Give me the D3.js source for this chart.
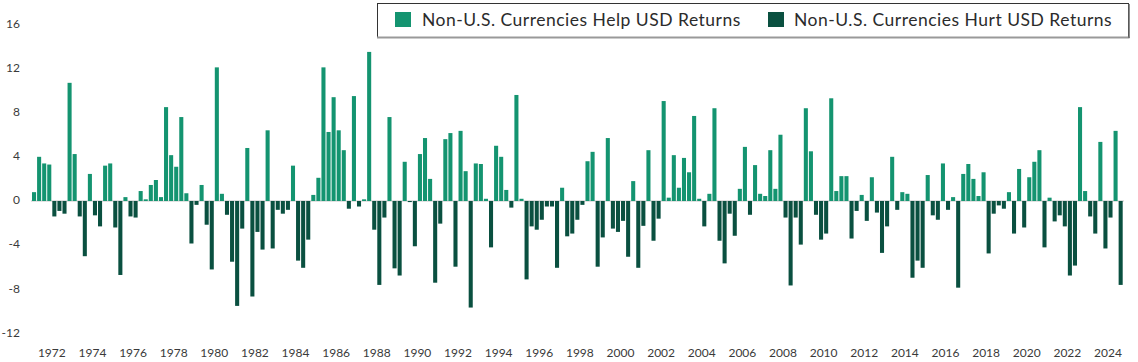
<!DOCTYPE html>
<html>
<head>
<meta charset="utf-8">
<script src="https://cdn.jsdelivr.net/npm/d3@7"></script>
<style>
  html, body { margin: 0; padding: 0; background: #ffffff; }
  svg { display: block; }
  text { font-family: "Lato", "Roboto", sans-serif; }
</style>
</head>
<body>
<svg id="chart" width="1138" height="362"></svg>
<script>
// ---- data ----
const startYear = 1971;           // first quarter shown: 1971 Q1
const seriesNames = ["Non-U.S. Currencies Help USD Returns", "Non-U.S. Currencies Hurt USD Returns"];
const values = [
  0.8, 4.0, 3.4, 3.3, -1.4, -0.9, -1.15, 10.7, 4.25, -1.4,
  -5.0, 2.45, -1.3, -2.3, 3.2, 3.4, -2.4, -6.7, 0.35, -1.4,
  -1.5, 0.9, 0.15, 1.45, 1.9, 0.35, 8.5, 4.15, 3.1, 7.6,
  0.7, -3.85, -0.35, 1.45, -2.15, -6.2, 12.1, 0.65, -1.25, -5.5,
  -9.5, -2.5, 4.8, -8.65, -2.8, -4.4, 6.4, -4.3, -0.8, -1.15,
  -0.8, 3.2, -5.4, -6.05, -3.5, 0.55, 2.1, 12.1, 6.25, 9.4,
  6.4, 4.6, -0.7, 9.5, -0.5, 0.15, 13.5, -2.6, -7.6, -1.5,
  7.6, -6.1, -6.75, 3.55, -0.1, -4.1, 4.25, 5.7, 2.0, -7.4,
  -2.05, 5.6, 6.15, -5.95, 6.35, 2.7, -9.65, 3.4, 3.35, 0.2,
  -4.2, 5.0, 4.0, 1.0, -0.6, 9.6, 0.2, -7.1, -2.3, -2.6,
  -1.7, -0.5, -0.5, -6.05, 1.2, -3.2, -2.95, -1.7, -0.35, 3.6,
  4.45, -5.95, -3.3, 5.7, -2.5, -2.8, -1.8, -5.05, 1.8, -6.05,
  -2.25, 4.6, -3.6, -1.6, 9.05, 0.3, 4.15, 1.2, 3.9, 2.6,
  7.7, 0.2, -2.3, 0.65, 8.4, -3.6, -5.65, -1.15, -3.15, 1.1,
  4.9, -1.25, 3.25, 0.65, 0.45, 4.6, 1.1, 6.0, -1.5, -7.65,
  -1.5, -3.95, 8.4, 4.5, -1.25, -3.5, -2.95, 9.3, 0.9, 2.25,
  2.25, -3.4, -0.9, 0.55, -1.8, 2.15, -1.05, -4.7, -2.3, 4.0,
  -0.8, 0.8, 0.65, -6.95, -5.4, -6.05, 2.35, -1.3, -1.7, 3.4,
  -0.8, 0.35, -7.85, 2.45, 3.35, 2.0, 0.45, 2.6, -4.75, -1.15,
  -0.4, -0.7, 0.8, -2.95, 2.9, -2.4, 2.15, 3.55, 4.6, -4.2,
  0.3, -1.85, -1.3, -2.3, -6.75, -5.85, 8.5, 0.9, -1.4, -2.95,
  5.35, -4.3, -1.5, 6.35, -7.6
];
const xTickLabels = ["1972","1974","1976","1978","1980","1982","1984","1986","1988","1990","1992","1994","1996","1998","2000","2002","2004","2006","2008","2010","2012","2014","2016","2018","2020","2022","2024"];
const yTicks = [-12, -8, -4, 0, 4, 8, 12, 16];

// categories: quarter labels
const quarters = values.map((v, i) => `${startYear + Math.floor(i / 4)} Q${(i % 4) + 1}`);

// ---- styles ----
const helpColor = "#149470";
const hurtColor = "#0a5040";

const svg = d3.select("#chart");

const x = d3.scaleBand().domain(quarters).range([31.5, 1123.2]).paddingInner(0.2).paddingOuter(0.1);
const y = d3.scaleLinear().domain([-12, 16]).range([333.5, 24.3]);

// y tick labels
svg.append("g").selectAll("text").data(yTicks).join("text")
  .attr("x", 20).attr("y", d => y(d) - 1).attr("dy", "0.35em")
  .attr("text-anchor", "end").attr("font-size", 12).attr("fill", "#3a3a3a")
  .text(d => d);

// zero line
svg.append("line")
  .attr("x1", 31).attr("x2", 1124)
  .attr("y1", y(0)).attr("y2", y(0))
  .attr("stroke", "#d9d9d9").attr("stroke-width", 1.5);

// bars
svg.append("g").selectAll("rect").data(values).join("rect")
  .attr("x", (d, i) => x(quarters[i]))
  .attr("width", x.bandwidth())
  .attr("y", d => d >= 0 ? y(d) : y(0))
  .attr("height", d => Math.abs(y(d) - y(0)))
  .attr("fill", d => d >= 0 ? helpColor : hurtColor);

// x labels at start of each labelled year
const step = x.step();
svg.append("g").selectAll("text").data(xTickLabels).join("text")
  .attr("x", d => x(`${d} Q1`) - step * 0.1)
  .attr("y", 357)
  .attr("text-anchor", "middle").attr("font-size", 12).attr("fill", "#3a3a3a")
  .text(d => d);

// legend
const lg = svg.append("g");
lg.append("rect").attr("x", 377.5).attr("y", 3.5).attr("width", 751).attr("height", 34)
  .attr("fill", "#fff").attr("stroke", "#333").attr("stroke-width", 1);
lg.append("line").attr("x1", 377).attr("x2", 1129.5).attr("y1", 37.5).attr("y2", 37.5)
  .attr("stroke", "#999").attr("stroke-width", 2);
lg.append("line").attr("x1", 1129).attr("x2", 1129).attr("y1", 4).attr("y2", 38)
  .attr("stroke", "#666").attr("stroke-width", 1.5);
const items = [
  { name: seriesNames[0], color: helpColor, sx: 395, tx: 422 },
  { name: seriesNames[1], color: hurtColor, sx: 768, tx: 794 }
];
items.forEach(it => {
  lg.append("rect").attr("x", it.sx).attr("y", 12).attr("width", 16).attr("height", 15).attr("fill", it.color);
  lg.append("text").attr("x", it.tx).attr("y", 26).attr("font-size", 17.5)
    .attr("letter-spacing", "0.5px").attr("fill", "#2b2b2b").text(it.name);
});
</script>
</body>
</html>
